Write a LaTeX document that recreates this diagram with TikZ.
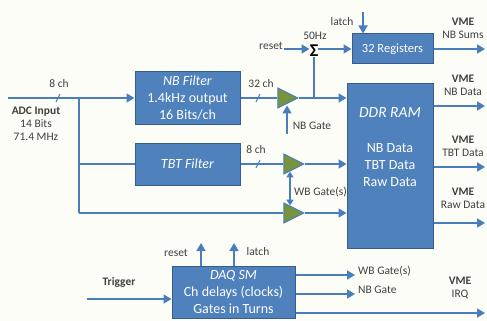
\documentclass[tikz,border=0pt]{standalone}
\usepackage{fontspec}
\setmainfont{Carlito}
\usetikzlibrary{arrows.meta,shapes.geometric,positioning}
\definecolor{boxblue}{RGB}{79,129,189}
\definecolor{boxline}{RGB}{56,93,138}
\definecolor{wireblue}{RGB}{74,126,187}
\definecolor{ampgreen}{RGB}{119,147,60}
\definecolor{paper}{RGB}{253,253,248}

\begin{document}
\begin{tikzpicture}[x=1pt,y=-1pt]
    \tikzstyle{blk}=[rectangle, draw=boxline, fill=boxblue, line width=1pt, text=white, align=center, font=\fontsize{14}{17}\selectfont]
    \tikzstyle{amp}=[isosceles triangle, isosceles triangle stretches, draw=wireblue, fill=ampgreen, line width=1pt, inner sep=0pt, minimum width=20pt, minimum height=20pt]
    \tikzstyle{wire}=[draw=wireblue, line width=1.7pt]
    \tikzstyle{connect}=[-{Triangle[length=8pt,width=9pt]}, wire]
    \tikzstyle{lbl}=[font=\fontsize{11.5}{13}\selectfont, text=black!75, inner sep=1pt]
    \tikzstyle{vme}=[font=\fontsize{11.5}{13}\selectfont, text=black!75, align=center, inner sep=0pt]
    \useasboundingbox[fill=paper] (0,0) rectangle (487,321);
    % boxes
    \node[blk, minimum width=105pt, minimum height=53pt] (nb) at (187.5,98) {\textit{NB Filter}\\1.4kHz output\\16 Bits/ch};
    \node[blk, minimum width=105pt, minimum height=42pt] (tbt) at (187.5,164) {\textit{TBT Filter}};
    \node[blk, minimum width=81pt, minimum height=30pt, font=\fontsize{12.5}{14}\selectfont] (reg) at (392.5,49) {32 Registers};
    \node[blk, minimum width=86pt, minimum height=165pt] (ddr) at (390,165.5) {};
    \node[text=white, align=center, anchor=north, font=\fontsize{14}{17}\selectfont] (ddrtxt) at (390,104) {{\fontsize{15.5}{17}\selectfont\textit{DDR RAM}}\\[18pt]NB Data\\TBT Data\\Raw Data};
    \node[blk, minimum width=123pt, minimum height=52pt] (daq) at (233.5,292) {\textit{DAQ SM}\\Ch delays (clocks)\\Gates in Turns};
    % gates
    \node[amp] (amp1) at (284,98) {};
    \node[amp] (amp2) at (290,164) {};
    \node[amp] (amp3) at (290,213) {};
    \node[font=\fontsize{18}{18}\selectfont\bfseries, inner sep=0pt] (sig) at (314,51) {Σ};
    % end points
    \coordinate (adc) at (8,98);
    \coordinate (sp) at (79,98);
    \coordinate (jn) at (314,98);
    \coordinate (rst) at (284,49);
    \coordinate (lt) at (363,12);
    \coordinate (nbg) at (287,134);
    \coordinate (trg) at (87,299);
    \coordinate (drst) at (201,243);
    \coordinate (dlat) at (234,243);
    \coordinate (wbo) at (355,275);
    \coordinate (nbo) at (355,294);
    \coordinate (out1) at (485,49);
    \coordinate (out2) at (485,106);
    \coordinate (out3) at (485,167);
    \coordinate (out4) at (485,223);
    \coordinate (out5) at (485,313);
    % connectors
    \path (adc) edge [connect] (nb.west)
    (sp) edge [wire] ++(0,115)
    (sp |- tbt.west) edge [wire] (tbt.west)
    (sp |- amp3.west) edge [wire] (amp3.west)
    (nb.east) edge [wire] (amp1.west)
    (tbt.east) edge [wire] (amp2.west)
    (amp1.east) edge [connect] (jn -| ddr.west)
    (jn) edge [wire] (sig.south)
    (rst) edge [connect] (rst -| sig.west)
    (sig.east |- reg.west) edge [connect] (reg.west)
    (lt) edge [connect] (lt |- reg.north)
    (nbg) edge [connect] (nbg |- amp1.south)
    (amp2.east) edge [connect] (amp2.east -| ddr.west)
    (amp3.east) edge [connect] (amp3.east -| ddr.west)
    (amp2.south) edge [{Triangle[length=6pt,width=7pt]}-{Triangle[length=6pt,width=7pt]}, wire] (amp3.north)
    (reg.east) edge [connect] (out1)
    (out2 -| ddr.east) edge [connect] (out2)
    (out3 -| ddr.east) edge [connect] (out3)
    (out4 -| ddr.east) edge [connect] (out4)
    (trg) edge [connect] (trg -| daq.west)
    (drst |- daq.north) edge [connect] (drst)
    (dlat |- daq.north) edge [connect] (dlat)
    (wbo -| daq.east) edge [connect] (wbo)
    (nbo -| daq.east) edge [connect] (nbo)
    (out5 -| daq.east) edge [connect] (out5);
    % bus slashes
    \draw[wire, line width=1pt] (56,102) -- (60,94) (256,102) -- (260,94) (256,168) -- (260,160);
    % labels
    \node[lbl] (ch1) at (59,84) {8 ch};
    \node[lbl] (ch2) at (261,84) {32 ch};
    \node[lbl] (ch3) at (256,150) {8 ch};
    \node[vme] (adcin) at (36,124) {\textbf{ADC Input}\\14 Bits\\71.4 MHz};
    \node[lbl] (nbgl) at (312,126) {NB Gate};
    \node[lbl, anchor=west] (wbgl) at (293,192) {WB Gate(s)};
    \node[lbl] (rstl) at (271,46) {reset};
    \node[lbl] (hz) at (315,36) {50Hz};
    \node[lbl] (latl) at (342,22) {latch};
    \node[lbl, font=\fontsize{11.5}{13}\selectfont\bfseries] (trgl) at (119,282) {Trigger};
    \node[lbl] (drstl) at (176,253) {reset};
    \node[lbl] (dlatl) at (258,252) {latch};
    \node[lbl, anchor=west] (wbol) at (357,271) {WB Gate(s)};
    \node[lbl, anchor=west] (nbol) at (357,290) {NB Gate};
    \node[vme] (vme1) at (463,28) {\textbf{VME}\\NB Sums};
    \node[vme] (vme2) at (463,85) {\textbf{VME}\\NB Data};
    \node[vme] (vme3) at (463,146) {\textbf{VME}\\TBT Data};
    \node[vme] (vme4) at (463,198) {\textbf{VME}\\Raw Data};
    \node[vme] (vme5) at (460,288) {\textbf{VME}\\IRQ};
\end{tikzpicture}
\end{document}
